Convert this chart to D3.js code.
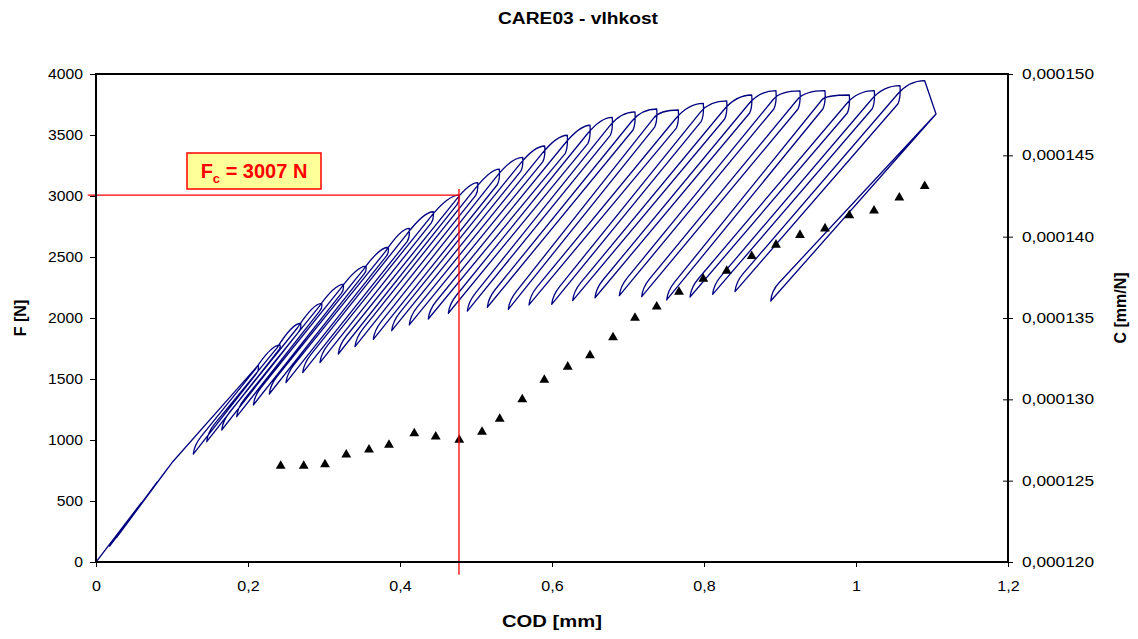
<!DOCTYPE html>
<html><head><meta charset="utf-8">
<script src="https://cdn.jsdelivr.net/npm/d3@7"></script>
<style>
body{margin:0;background:#fff}
svg{display:block}
text{font-family:"Liberation Sans",Arial,Helvetica,sans-serif;fill:#000}
</style>
</head><body>
<svg id="chart" width="1138" height="639"></svg>
<script>
// ---------------- data ----------------
const chartTitle = "CARE03 - vlhkost";
const xTickValues = [0, 0.2, 0.4, 0.6, 0.8, 1, 1.2];
const fTickValues = [0, 500, 1000, 1500, 2000, 2500, 3000, 3500, 4000];
const cTickValues = [0.000120, 0.000125, 0.000130, 0.000135, 0.000140, 0.000145, 0.000150];

// initial (almost linear) loading with small cycles: COD [mm], F [N]
const initCod = [0, 0.060, 0.018, 0.080, 0.022, 0.095, 0.027, 0.101];
const initF   = [0, 489, 130, 652, 163, 774, 200, 822];

// cyclic part: peak of each cycle
const peakCod = [0.2136,0.2421,0.2693,0.2970,0.3254,0.3553,0.3846,0.4122,0.4438,0.4776,
                 0.5022,0.5307,0.5614,0.5904,0.6201,0.6500,0.6793,0.7092,0.7378,0.7662,
                 0.7991,0.8299,0.8628,0.8947,0.9263,0.9592,0.9912,1.0241,1.0579,1.0904];
const peakF   = [1615,1779,1957,2120,2275,2426,2580,2735,2871,3007,
                 3109,3221,3317,3410,3498,3580,3645,3689,3713,3705,
                 3760,3779,3828,3863,3861,3863,3828,3863,3904,3945];
// start of the straight unloading branch
const dropCod = [0.2109,0.2395,0.2667,0.2943,0.3228,0.3526,0.3820,0.4096,0.4412,0.4750,
                 0.4996,0.5280,0.5588,0.5878,0.6175,0.6474,0.6767,0.7066,0.7351,0.7636,
                 0.7964,0.8272,0.8601,0.8921,0.9237,0.9566,0.9886,1.0214,1.0553,1.1053];
const dropF   = [1543,1731,1887,2057,2202,2359,2507,2628,2780,2930,
                 3005,3092,3202,3280,3350,3432,3497,3541,3565,3557,
                 3612,3631,3680,3715,3713,3715,3680,3715,3756,3672];
// bottom of each unloading
const minCod  = [0.1280,0.1457,0.1654,0.1851,0.2070,0.2280,0.2500,0.2720,0.2947,0.3188,
                 0.3408,0.3649,0.3891,0.4122,0.4372,0.4636,0.4886,0.5149,0.5425,0.5697,
                 0.5996,0.6272,0.6566,0.6886,0.7180,0.7509,0.7816,0.8114,0.8408,0.8878];
const minF    = [885,986,1082,1191,1287,1377,1470,1552,1634,1705,
                 1765,1825,1896,1943,1992,2039,2057,2088,2071,2107,
                 2112,2142,2166,2183,2175,2148,2172,2194,2216,2139];

// compliance C [mm/N] per cycle (right axis)
const cCod = [0.2430,0.2733,0.3013,0.3293,0.3592,0.3855,0.4188,0.4470,0.4780,0.5079,
              0.5312,0.5609,0.5899,0.6207,0.6500,0.6803,0.7092,0.7378,0.7671,0.7991,
              0.8299,0.8628,0.8947,0.9263,0.9592,0.9912,1.0237,1.0570,1.0904];
const cVal = [0.0001259,0.0001259,0.0001260,0.0001266,0.0001269,0.0001272,0.0001279,0.0001277,0.0001275,0.0001280,
              0.0001288,0.0001300,0.0001312,0.0001320,0.0001327,0.0001338,0.0001350,0.0001357,0.0001366,0.0001374,
              0.0001379,0.0001388,0.0001395,0.0001401,0.0001405,0.0001413,0.0001416,0.0001424,0.0001431];

// critical force marker
const fcCod = 0.4776, fcF = 3007;
const fcLabel = {main: "F", sub: "c", rest: " = 3007 N"};

// ---------------- drawing ----------------
const svg = d3.select("#chart");
const pL = 96, pR = 1008, pT = 74, pB = 562;
const x  = d3.scaleLinear().domain([0, 1.2]).range([pL, pR]);
const yF = d3.scaleLinear().domain([0, 4000]).range([pB, pT]);
const yC = d3.scaleLinear().domain([0.000120, 0.000150]).range([pB, pT]);

const loc = d3.formatLocale({decimal: ",", thousands: "", grouping: [3], currency: ["", ""]});
const fmtX = loc.format(".1~f");
const fmtC = loc.format(".6f");

// title
svg.append("text").attr("x", 578).attr("y", 24).attr("text-anchor", "middle")
  .attr("textLength", 160).attr("lengthAdjust", "spacingAndGlyphs")
  .style("font-size", "16px").style("font-weight", "bold").text(chartTitle);

// clip for data
svg.append("clipPath").attr("id", "plotclip").append("rect")
  .attr("x", pL).attr("y", pT - 2).attr("width", pR - pL + 2).attr("height", pB - pT + 4);

// blue hysteresis curve
const path = d3.path();
path.moveTo(x(initCod[0]), yF(initF[0]));
for (let i = 1; i < initCod.length; i++) path.lineTo(x(initCod[i]), yF(initF[i]));
const n = peakCod.length;
path.lineTo(x(peakCod[0]), yF(peakF[0]));
for (let i = 0; i < n; i++) {
  const P = [x(peakCod[i]), yF(peakF[i])];
  const D = [x(dropCod[i]), yF(dropF[i])];
  const M = [x(minCod[i]), yF(minF[i])];
  const last = (i === n - 1);
  if (last) path.lineTo(D[0], D[1]);
  else path.quadraticCurveTo(P[0] + 0.8, (P[1] + 2 * D[1]) / 3, D[0], D[1]);
  path.lineTo(M[0], M[1]);
  const hy = Math.min(18, 0.22 * (M[1] - D[1]));
  const Hk = [M[0] + hy * 0.45, M[1] - hy];
  const R = last ? [D[0] - 1, D[1] + 1] : [D[0] - 1, (P[1] + D[1]) / 2];
  const m = (R[1] - Hk[1]) / (R[0] - Hk[0]);
  const cx0 = M[0] + 1, cy0 = Hk[1] + (cx0 - Hk[0]) * m;
  path.quadraticCurveTo(cx0, cy0, Hk[0], Hk[1]);
  path.lineTo(R[0], R[1]);
  if (!last) {
    const Pn = [x(peakCod[i + 1]), yF(peakF[i + 1])];
    let cx1 = R[0] + (Pn[1] - R[1]) / m;
    cx1 = Math.max(R[0], Math.min(cx1, Pn[0] - 0.35 * (Pn[0] - R[0])));
    path.quadraticCurveTo(cx1, Pn[1], Pn[0], Pn[1]);
  }
}
svg.append("path").attr("d", path.toString())
  .attr("fill", "none").attr("stroke", "#000080").attr("stroke-width", 1.3)
  .attr("stroke-linejoin", "round").attr("clip-path", "url(#plotclip)");

// compliance triangles
svg.append("g").selectAll("path").data(cCod).join("path")
  .attr("transform", (d, i) => `translate(${x(d)},${yC(cVal[i])})`)
  .attr("d", d3.symbol(d3.symbolTriangle, 42))
  .attr("fill", "#000");

// red Fc lines
svg.append("line")
  .attr("x1", x(fcCod)).attr("x2", x(fcCod))
  .attr("y1", yF(fcF + 50)).attr("y2", yF(-105))
  .attr("stroke", "#ff0000").attr("stroke-width", 1.3);
svg.append("line")
  .attr("x1", x(-0.011)).attr("x2", x(fcCod))
  .attr("y1", yF(fcF)).attr("y2", yF(fcF))
  .attr("stroke", "#ff0000").attr("stroke-width", 1.3);

// annotation box
const bx = 187, by = 153, bw = 134, bh = 36;
svg.append("rect").attr("x", bx).attr("y", by).attr("width", bw).attr("height", bh)
  .attr("fill", "#ffff99").attr("stroke", "#ff0000").attr("stroke-width", 1.5);
const lab = svg.append("text").attr("x", bx + bw / 2).attr("y", by + 25).attr("text-anchor", "middle")
  .style("font-size", "20px").style("font-weight", "bold").style("fill", "#ff0000");
lab.append("tspan").text(fcLabel.main);
lab.append("tspan").attr("dy", 5).style("font-size", "13px").text(fcLabel.sub);
lab.append("tspan").attr("dy", -5).text(fcLabel.rest);

// axes
const axL = svg.append("g").attr("transform", `translate(${pL},0)`)
  .call(d3.axisLeft(yF).tickValues(fTickValues).tickSize(6).tickPadding(7).tickFormat(d3.format("d")));
const axB = svg.append("g").attr("transform", `translate(0,${pB})`)
  .call(d3.axisBottom(x).tickValues(xTickValues).tickSize(5).tickPadding(14).tickFormat(fmtX));
const axR = svg.append("g").attr("transform", `translate(${pR},0)`)
  .call(d3.axisRight(yC).tickValues(cTickValues).tickSize(5).tickPadding(9).tickFormat(fmtC));
axR.selectAll(".tick line").attr("x1", -5);
[axL, axB, axR].forEach(a => {
  a.select(".domain").remove();
  a.selectAll(".tick line").attr("stroke", "#000");
  a.selectAll("text").style("font-size", "14px").style("font-family", "'Liberation Sans',Arial,sans-serif");
});
axL.selectAll("text").each(function () {
  const t = d3.select(this); t.attr("textLength", this.getComputedTextLength() * 1.12).attr("lengthAdjust", "spacingAndGlyphs");
});
axB.selectAll("text").each(function () {
  const t = d3.select(this); t.attr("textLength", this.getComputedTextLength() * 1.15).attr("lengthAdjust", "spacingAndGlyphs");
});
axR.selectAll("text").attr("textLength", 72).attr("lengthAdjust", "spacingAndGlyphs");

// frame
svg.append("rect").attr("x", pL).attr("y", pT).attr("width", pR - pL).attr("height", pB - pT)
  .attr("fill", "none").attr("stroke", "#000").attr("stroke-width", 2);

// axis titles
svg.append("text").attr("x", 552).attr("y", 627).attr("text-anchor", "middle")
  .attr("textLength", 100).attr("lengthAdjust", "spacingAndGlyphs")
  .style("font-size", "16px").style("font-weight", "bold").text("COD [mm]");
svg.append("text").attr("transform", "translate(26,318) rotate(-90)").attr("text-anchor", "middle")
  .style("font-size", "16px").style("font-weight", "bold").text("F [N]");
svg.append("text").attr("transform", "translate(1126,308) rotate(-90)").attr("text-anchor", "middle")
  .style("font-size", "16px").style("font-weight", "bold").text("C [mm/N]");
</script>
</body></html>
